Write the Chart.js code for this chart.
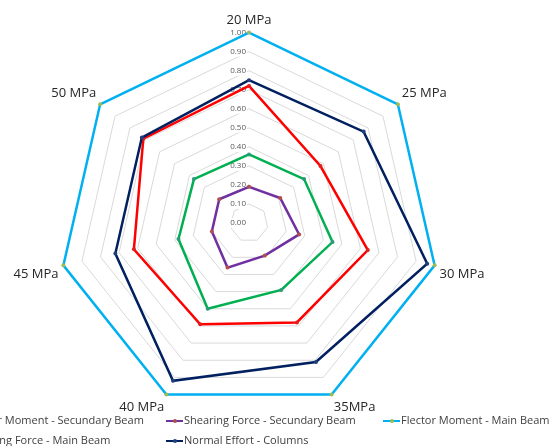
<!DOCTYPE html>
<html>
<head>
<meta charset="utf-8">
<script src="https://cdn.jsdelivr.net/npm/chart.js@4.4.0/dist/chart.umd.min.js"></script>
<style>
  html, body { margin: 0; padding: 0; background: #fff; overflow: hidden; }
  #wrap { position: relative; width: 554px; height: 446px; }
  #box { position: absolute; left: 0; top: 0; width: 554px; height: 424px; }
  .leg { position: absolute; font-family: "Open Sans", sans-serif; font-size: 11px; color: #404040; white-space: nowrap; line-height: 14px; }
  .leg i { display: inline-block; position: relative; width: 17px; height: 2px; margin-right: 1px; vertical-align: middle; }
  .leg i b { position: absolute; left: 7px; top: -1.5px; width: 4px; height: 4px; border-radius: 50%; }
</style>
</head>
<body>
<div id="wrap">
  <div id="box"><canvas id="radar"></canvas></div>
  <div id="legend"></div>
</div>
<script>
const categories = ['20 MPa', '25 MPa', '30 MPa', '35MPa', '40 MPa', '45 MPa', '50 MPa'];
const seriesNames = [
  'Flector Moment - Secundary Beam',
  'Shearing Force - Secundary Beam',
  'Flector Moment - Main Beam',
  'Shearing Force - Main Beam',
  'Normal Effort - Columns'
];
const flectorSecundary = [0.72, 0.48, 0.64, 0.58, 0.59, 0.62, 0.71];
const shearSecundary   = [0.19, 0.21, 0.27, 0.19, 0.26, 0.20, 0.20];
const flectorMain      = [1.00, 1.00, 1.00, 1.00, 1.00, 1.00, 1.00];
const shearMain        = [0.36, 0.37, 0.45, 0.39, 0.50, 0.38, 0.37];
const normalColumns    = [0.75, 0.77, 0.96, 0.81, 0.92, 0.72, 0.72];
const tickLabels = ['0.00', '0.10', '0.20', '0.30', '0.40', '0.50', '0.60', '0.70', '0.80', '0.90', '1.00'];

const lineColors = ['#FF0000', '#7030A0', '#00B0F0', '#00B050', '#002060'];
const markColors = ['#E02020', '#B0504D', '#9BBB59', '#2E9A7A', '#1F3F7D'];
const allData = [flectorSecundary, shearSecundary, flectorMain, shearMain, normalColumns];

// tick labels drawn right-aligned just left of the vertical axis, like Excel
const tickPlugin = {
  id: 'excelTicks',
  beforeDatasetsDraw(chart) {
    const r = chart.scales.r;
    const ctx = chart.ctx;
    ctx.save();
    ctx.font = '8px "Open Sans", sans-serif';
    ctx.textAlign = 'right';
    ctx.textBaseline = 'middle';
    tickLabels.forEach((t, i) => {
      const p = r.getPointPositionForValue(0, parseFloat(t));
      const w = ctx.measureText(t).width;
      ctx.fillStyle = '#fff';
      ctx.fillRect(p.x - 3 - w - 1, p.y - 5, w + 2, 10);
      ctx.fillStyle = '#595959';
      ctx.fillText(t, p.x - 3, p.y);
    });
    ctx.restore();
  }
};

new Chart(document.getElementById('radar'), {
  type: 'radar',
  data: {
    labels: categories,
    datasets: allData.map((d, i) => ({
      label: seriesNames[i],
      data: d,
      borderColor: lineColors[i],
      backgroundColor: 'transparent',
      borderWidth: 2.5,
      fill: false,
      pointRadius: 2,
      pointBorderWidth: 0,
      pointBackgroundColor: markColors[i],
      order: 5 - i
    }))
  },
  options: {
    responsive: true,
    maintainAspectRatio: false,
    animation: false,
    layout: { padding: { left: 0, right: 56, top: 2, bottom: 0 } },
    plugins: { legend: { display: false }, tooltip: { enabled: false } },
    scales: {
      r: {
        min: 0,
        max: 1,
        ticks: { stepSize: 0.1, display: false },
        angleLines: { display: false },
        grid: { color: '#D9D9D9', lineWidth: 1 },
        pointLabels: {
          font: { family: '"Open Sans", sans-serif', size: 13 },
          color: '#262626',
          padding: 5
        }
      }
    }
  },
  plugins: [tickPlugin]
});

// legend in Excel-style grid, first column runs off the left edge
const legend = document.getElementById('legend');
seriesNames.forEach((name, i) => {
  const col = i % 3, row = Math.floor(i / 3);
  const el = document.createElement('div');
  el.className = 'leg';
  el.style.left = (-51 + col * 217) + 'px';
  el.style.top = (413 + row * 20) + 'px';
  el.innerHTML = '<i style="background:' + lineColors[i] + '"><b style="background:' + markColors[i] + '"></b></i>' + name;
  legend.appendChild(el);
});
</script>
</body>
</html>
